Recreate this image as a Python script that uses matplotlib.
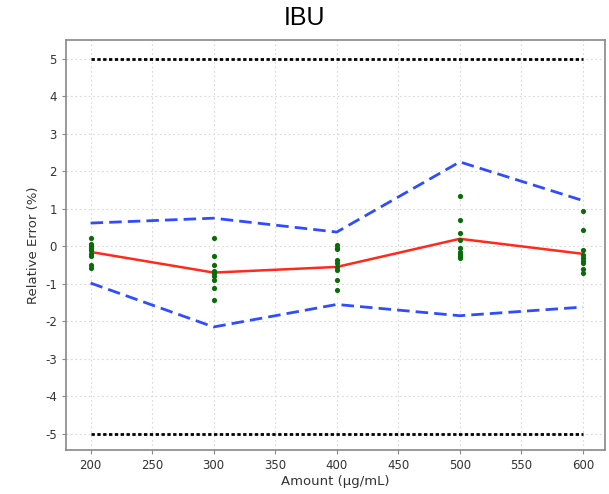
import matplotlib
matplotlib.use("Agg")
import matplotlib.pyplot as plt
import numpy as np

plt.rcParams["axes.unicode_minus"] = False

amounts = [200, 300, 400, 500, 600]
mean_err = [-0.15, -0.70, -0.55, 0.20, -0.20]
upper_lim = [0.62, 0.75, 0.38, 2.25, 1.22]
lower_lim = [-0.98, -2.15, -1.55, -1.85, -1.62]
acc_upper = [5, 5, 5, 5, 5]
acc_lower = [-5, -5, -5, -5, -5]

pts_200 = [0.22, 0.05, 0.0, -0.05, -0.10, -0.20, -0.25, -0.50, -0.58]
pts_300 = [0.22, -0.25, -0.49, -0.65, -0.70, -0.79, -0.89, -1.11, -1.43]
pts_400 = [0.04, -0.05, -0.08, -0.36, -0.45, -0.54, -0.63, -0.89, -1.16]
pts_500 = [1.35, 0.71, 0.35, 0.16, -0.05, -0.14, -0.20, -0.25, -0.31]
pts_600 = [0.93, 0.44, -0.11, -0.23, -0.31, -0.38, -0.45, -0.61, -0.70]
points = [pts_200, pts_300, pts_400, pts_500, pts_600]

fig = plt.figure(figsize=(6.09, 4.94), dpi=100)
ax = fig.add_axes([66/609, 1-450/494, (605-66)/609, (450-40)/494])

ax.grid(True, color="#d8d8d8", linestyle=(0, (1.5, 2.5)), linewidth=0.8)
ax.set_axisbelow(True)

ax.plot(amounts, acc_upper, color="black", linestyle=(0, (1.2, 0.9)), linewidth=2)
ax.plot(amounts, acc_lower, color="black", linestyle=(0, (1.2, 0.9)), linewidth=2)
ax.plot(amounts, upper_lim, color="#2f4cff", linestyle=(0, (4.5, 2.2)), linewidth=2)
ax.plot(amounts, lower_lim, color="#2f4cff", linestyle=(0, (4.5, 2.2)), linewidth=2)
ax.plot(amounts, mean_err, color="#ff2a1a", linewidth=1.8)
for a, pts in zip(amounts, points):
    ax.scatter([a]*len(pts), pts, s=14, color="#0a6b0a", zorder=5, linewidths=0)

ax.set_xlim(180, 618)
ax.set_ylim(-5.43, 5.5)
ax.set_xticks([200, 250, 300, 350, 400, 450, 500, 550, 600])
ax.set_yticks(range(-5, 6))
ax.tick_params(labelsize=8.5, colors="#333333", length=3, color="#888888")
for s in ax.spines.values():
    s.set_color("#888888")
    s.set_linewidth(1.2)

ax.set_xlabel("Amount (µg/mL)", fontsize=9.5, color="#333333", labelpad=2)
ax.set_ylabel("Relative Error (%)", fontsize=9.5, color="#333333")
fig.text(0.5, 1-18/494, "IBU", ha="center", va="center", fontsize=18,
         family="Liberation Sans")

fig.savefig("out.png", dpi=100)
